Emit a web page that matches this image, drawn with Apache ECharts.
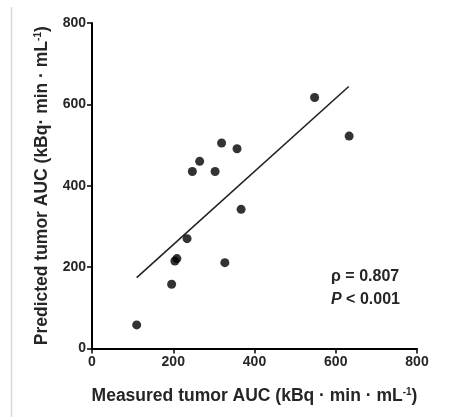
<!DOCTYPE html>
<html>
<head>
<meta charset="utf-8">
<script src="https://cdn.jsdelivr.net/npm/echarts@6/dist/echarts.min.js"></script>
<style>html,body{margin:0;padding:0;background:#fff}#c{width:458px;height:417px}</style>
</head>
<body>
<div id="c"></div>
<script>
var measured = [110, 196, 204, 209, 234, 327, 367, 247, 265, 303, 319, 357, 548, 633];
var predicted = [58, 158, 215, 221, 270, 211, 342, 435, 460, 435, 505, 491, 617, 522];
var fitX = [110, 632];
var fitY = [174, 644];
var xTicks = [0, 200, 400, 600, 800];
var yTicks = [0, 200, 400, 600, 800];
var xTitle = 'Measured tumor AUC (kBq · min · mL';
var yTitle = 'Predicted tumor AUC (kBq· min · mL';
var statRho = 'ρ = 0.807';
var statP = ['P', ' < 0.001'];

var pts = measured.map(function (x, i) { return [x, predicted[i]]; });
var fit = fitX.map(function (x, i) { return [x, fitY[i]]; });
var font = 'Liberation Sans, Arial, sans-serif';
var txt = '#262626';

var chart = echarts.init(document.getElementById('c'));
var axisCommon = {
  type: 'value', min: 0, max: 800, interval: 200,
  axisLine: { show: true, lineStyle: { color: '#000', width: 2 } },
  axisTick: { show: true, length: 5, lineStyle: { color: '#000', width: 1.5 } },
  splitLine: { show: false },
  nameLocation: 'middle'
};
var titleRich = {
  t: { fontFamily: font, fontWeight: 'bold', fontSize: 17.5, color: txt },
  s: { fontFamily: font, fontWeight: 'bold', fontSize: 10, color: txt, verticalAlign: 'top', padding: [0, 0, 8, 0] }
};
chart.setOption({
  animation: false,
  backgroundColor: '#fff',
  grid: { left: 92, right: 41, top: 23, bottom: 68.5, containLabel: false },
  xAxis: Object.assign({}, axisCommon, {
    axisLabel: { fontFamily: font, fontWeight: 'bold', fontSize: 14, color: txt, margin: 7,
      formatter: function (v) { return xTicks.indexOf(v) >= 0 ? String(v) : ''; } },
    name: '{t|' + xTitle + '}{s|-1}{t|)}',
    nameGap: 48,
    nameTextStyle: { verticalAlign: 'middle', rich: titleRich }
  }),
  yAxis: Object.assign({}, axisCommon, {
    axisLabel: { fontFamily: font, fontWeight: 'bold', fontSize: 14, color: txt, margin: 6,
      formatter: function (v) { return yTicks.indexOf(v) >= 0 ? String(v) : ''; } },
    name: '{t|' + yTitle + '}{s|-1}{t|)}',
    nameGap: 50,
    nameTextStyle: { verticalAlign: 'middle', rich: titleRich }
  }),
  graphic: [
    { type: 'line', shape: { x1: 11.5, y1: 7, x2: 11.5, y2: 417 }, style: { stroke: '#d8d8d8', lineWidth: 1.5 } },
    { type: 'text', left: 331, top: 269, style: { text: statRho, font: 'bold 16px ' + font, fill: txt } },
    { type: 'text', left: 331, top: 292, style: { text: '{i|' + statP[0] + '}{n|' + statP[1] + '}',
      rich: { i: { font: 'italic bold 16px ' + font, fill: txt }, n: { font: 'bold 16px ' + font, fill: txt } } } }
  ],
  series: [
    { type: 'line', data: fit, symbol: 'none', lineStyle: { color: '#222', width: 1.6 }, z: 2 },
    { type: 'scatter', data: pts, symbol: 'circle', symbolSize: 9, itemStyle: { color: '#000' }, z: 3 }
  ]
});
</script>
</body>
</html>
